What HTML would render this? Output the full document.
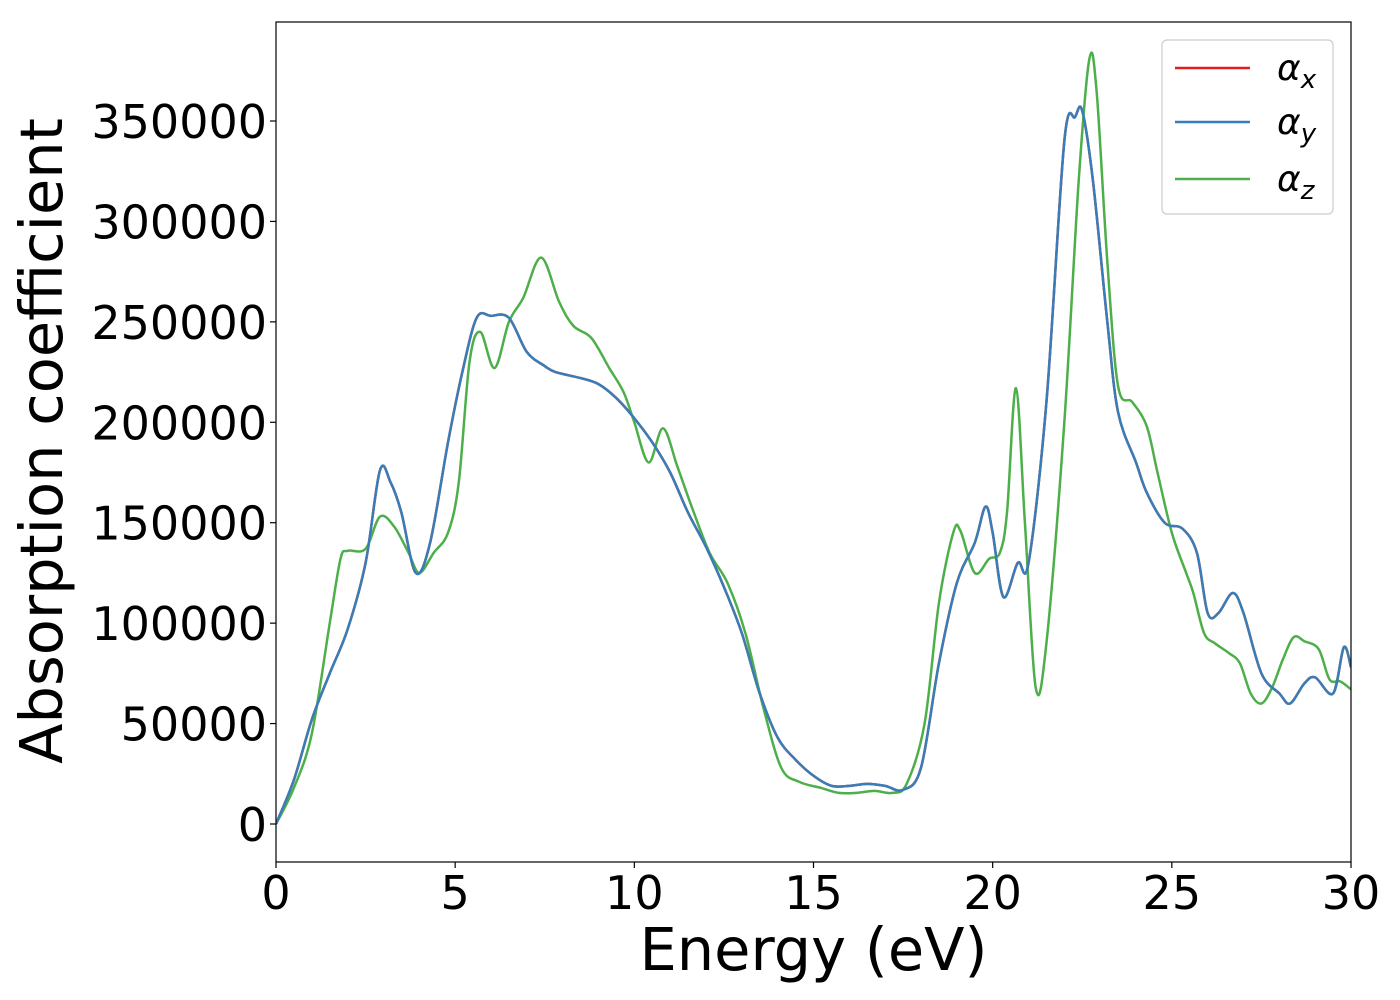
<!DOCTYPE html>
<html><head><meta charset="utf-8"><style>
html,body{margin:0;padding:0;background:#fff}
svg{display:block;font-family:"DejaVu Sans","Liberation Sans",sans-serif}
</style></head><body>
<svg id="chart" width="1400" height="1000" xmlns="http://www.w3.org/2000/svg">
<g id="series"></g>
<g id="axes"></g>
<g id="legend"></g>
</svg>
<script>
const xTicks = [0,5,10,15,20,25,30];
const yTicks = [0,50000,100000,150000,200000,250000,300000,350000];
const blueE = [0,0.5,1,1.5,2,2.5,2.9,3.2,3.5,3.9,4.3,4.8,5.2,5.6,6,6.5,7,7.5,7.8,8.5,9,9.5,10,10.5,11,11.5,12,12.5,13,13.5,14,14.5,15,15.5,16,16.5,17,17.5,18,18.5,19,19.5,19.8,20,20.3,20.7,21,21.5,22,22.3,22.5,22.8,23.2,23.5,24,24.3,24.8,25.3,25.7,26,26.3,26.7,27,27.5,28,28.3,28.7,29,29.5,29.8,30];
const blueV = [0,22000,52000,75000,97000,130000,176000,170000,155000,125000,140000,190000,225000,252000,253000,252000,235000,228000,225000,222000,219000,212000,202000,190000,175000,155000,138000,118000,95000,65000,43000,32000,24000,19000,19000,20000,19000,17000,28000,80000,120000,140000,158000,145000,113000,130000,130000,210000,340000,352000,355000,320000,250000,205000,180000,165000,150000,147000,135000,105000,105000,115000,105000,75000,65000,60000,70000,73000,65000,88000,78000];
const greenE = [0,0.5,1,1.5,1.8,2,2.5,2.9,3.3,3.7,4.0,4.4,4.8,5.1,5.4,5.7,6.1,6.5,6.9,7.4,7.9,8.3,8.8,9.3,9.7,10.0,10.4,10.8,11.2,11.6,12.1,12.6,13.1,13.6,14.1,14.6,15.2,15.7,16.2,16.7,17.2,17.6,18.1,18.5,18.9,19.1,19.5,19.9,20.2,20.4,20.65,20.9,21.2,21.5,22,22.4,22.7,22.9,23.2,23.5,23.9,24.3,24.6,25.0,25.4,25.6,25.9,26.2,26.6,26.9,27.2,27.5,27.8,28.1,28.4,28.7,29.1,29.4,29.7,30];
const greenV = [0,18000,45000,100000,132000,136000,137000,153000,148000,135000,125000,135000,145000,170000,230000,245000,227000,250000,262000,282000,260000,248000,242000,227000,215000,200000,180000,197000,178000,158000,135000,120000,95000,58000,28000,21000,18000,15500,15500,16500,15500,20000,50000,110000,145000,146000,125000,132000,135000,155000,217000,150000,68000,90000,200000,320000,381000,365000,280000,218000,210000,198000,175000,145000,125000,115000,95000,90000,85000,80000,65000,60000,68000,82000,93000,91000,87000,72000,71000,67000];

const L=276,R=1351,T=22,B=862;
const xs = e => L + e*(R-L)/30;
const ys = v => 824 - v*(824-121)/350000;
const NS="http://www.w3.org/2000/svg";
function mk(tag, attrs, parent){const el=document.createElementNS(NS,tag);for(const k in attrs)el.setAttribute(k,attrs[k]);parent.appendChild(el);return el;}
function pathD(E,V){
  const p=E.map((e,i)=>[xs(e),ys(V[i])]);
  let d=`M${p[0][0]},${p[0][1]}`;
  for(let i=0;i<p.length-1;i++){
    const p0=p[Math.max(0,i-1)],p1=p[i],p2=p[i+1],p3=p[Math.min(p.length-1,i+2)];
    const c1=[p1[0]+(p2[0]-p0[0])/6,p1[1]+(p2[1]-p0[1])/6];
    const c2=[p2[0]-(p3[0]-p1[0])/6,p2[1]-(p3[1]-p1[1])/6];
    d+=` C${c1[0]},${c1[1]} ${c2[0]},${c2[1]} ${p2[0]},${p2[1]}`;
  }
  return d;
}
const sg=document.getElementById('series');
const cp=mk('clipPath',{id:'clip'},sg);mk('rect',{x:L,y:T,width:R-L,height:B-T},cp);
const lx=mk('path',{d:pathD(blueE,blueV),fill:'none',stroke:'#e41a1c','stroke-width':2.5,'clip-path':'url(#clip)'},sg);


const lg=mk('path',{d:pathD(greenE,greenV),fill:'none',stroke:'#4daf4a','stroke-width':2.5,'clip-path':'url(#clip)'},sg);


const lb=mk('path',{d:pathD(blueE,blueV),fill:'none',stroke:'#377eb8','stroke-width':2.5,'clip-path':'url(#clip)'},sg);



const ax=document.getElementById('axes');
const fr=mk('rect',{x:L,y:T,width:R-L,height:B-T,fill:'none',stroke:'#000','stroke-width':1.2},ax);


xTicks.forEach(t=>{
  mk('line',{x1:xs(t),x2:xs(t),y1:B,y2:B+6,stroke:'#000','stroke-width':1.2},ax);
  const tx=mk('text',{x:xs(t),y:B+47,'text-anchor':'middle','font-size':46},ax);
  tx.textContent=t;
  
  
});
yTicks.forEach(t=>{
  mk('line',{x1:L-6,x2:L,y1:ys(t),y2:ys(t),stroke:'#000','stroke-width':1.2},ax);
  const tx=mk('text',{x:L-9,y:ys(t)+17,'text-anchor':'end','font-size':46},ax);
  tx.textContent=t;
  
  
});
const xt=mk('text',{x:(L+R)/2,y:970,'text-anchor':'middle','font-size':59},ax);
xt.textContent='Energy (eV)';


const yt=mk('text',{x:0,y:0,'text-anchor':'middle','font-size':59,transform:'translate(62,441) rotate(-90)'},ax);
yt.textContent='Absorption coefficient';



const lgd=document.getElementById('legend');
const box=mk('rect',{x:1162,y:40,width:171,height:174,rx:5,fill:'#fff','fill-opacity':0.8,stroke:'#ccc','stroke-width':1.2},lgd);


const items=[['x','#e41a1c',68],['y','#377eb8',122],['z','#4daf4a',179]];
items.forEach(([s,c,y])=>{
  const ln=mk('line',{x1:1175,x2:1250,y1:y,y2:y,stroke:c,'stroke-width':2.5},lgd);
  
  
  const tx=mk('text',{x:1277,y:y+12,'font-size':36,'font-style':'italic'},lgd);
  
  
  tx.textContent='α';
  const sub=mk('tspan',{'font-size':26,dy:8},tx);
  sub.textContent=s;
});
</script>
</body></html>
